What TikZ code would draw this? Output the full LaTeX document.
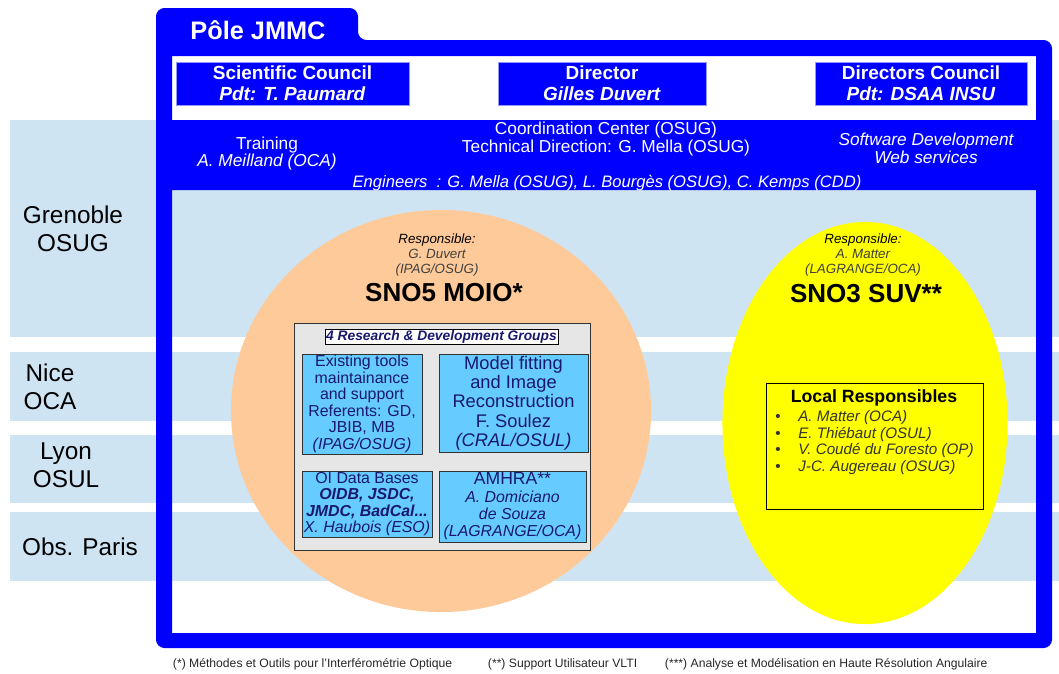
\documentclass[tikz,border=0pt]{standalone}
\usepackage{fontspec}
\setmainfont{Liberation Sans}
\usetikzlibrary{shapes.geometric}

\definecolor{jmmcblue}{RGB}{0,0,255}
\definecolor{boxrim}{RGB}{150,150,255}
\definecolor{bandblue}{RGB}{207,228,243}
\definecolor{peach}{RGB}{255,202,153}
\definecolor{suvyellow}{RGB}{255,255,0}
\definecolor{groupblue}{RGB}{102,204,255}
\definecolor{panelgray}{RGB}{230,230,230}
\definecolor{navy}{RGB}{24,24,110}

\newcommand{\fs}[2]{\fontsize{#1}{#2}\selectfont}

\tikzset{
  site/.style={align=center, font=\fs{17.3}{20}},
  topbox/.style={draw=boxrim, fill=jmmcblue, text=white, align=center,
    inner sep=0pt, font=\bfseries\fs{13.5}{15}},
  hdr/.style={text=white, align=center, font=\fs{12.3}{12.8}},
  resp/.style={align=center, text=black!75, font=\itshape\fs{9.5}{10.7}},
  sno/.style={font=\bfseries\fs{18.5}{20}},
  groupbox/.style={draw=black!80, fill=groupblue, text=navy, align=center,
    inner sep=0pt, font=\fs{11.3}{11.7}},
  note/.style={anchor=west, text=black!85, font=\fs{8.65}{9}},
}

\begin{document}
\begin{tikzpicture}[x=0.025cm, y=-0.025cm]
  \useasboundingbox (0,0) rectangle (1059,673);

  % site bands
  \foreach \ya/\yb in {120/337, 352/421, 435/503, 512/581}
    \fill[bandblue] (10,\ya) rectangle (1059,\yb);

  \node[site] (gre) at (73,229) {Grenoble\\OSUG};
  \node[site] (nic) at (50,387) {Nice\\OCA};
  \node[site] (lyo) at (66,465) {Lyon\\OSUL};
  \node[site] (par) at (80,547) {Obs. Paris};

  % pole frame with tab and header band
  \fill[jmmcblue, even odd rule]
    [rounded corners=6] (156,648) -- (156,8) -- (358,8) -- (358,40)
      -- (1052,40) -- (1052,648) -- cycle
    [sharp corners] (172,56) rectangle (1036,120)
    (172,190) rectangle (1036,633);

  \node[text=white, font=\bfseries\fs{18}{20}] (pole) at (258,30) {Pôle JMMC};

  \node[topbox, minimum width=5.825cm, minimum height=1.075cm] (sci) at (292.5,83.5)
    {Scientific Council\\\textit{Pdt: T. Paumard}};
  \node[topbox, minimum width=5.2cm, minimum height=1.075cm] (dir) at (602,83.5)
    {Director\\\textit{Gilles Duvert}};
  \node[topbox, minimum width=5.3cm, minimum height=1.075cm] (dirc) at (921,83.5)
    {Directors Council\\\textit{Pdt: DSAA INSU}};

  \node[hdr, font=\fs{12.3}{12.1}] (train) at (267,153.5) {Training\\\textit{A. Meilland (OCA)}};
  \node[hdr] (coord) at (606,139) {Coordination Center (OSUG)\\Technical Direction: G. Mella (OSUG)};
  \node[hdr, font=\itshape\fs{12.3}{12.8}] (soft) at (926,148) {Software Development\\Web services};
  \node[hdr, font=\itshape\fs{11.8}{13}] (eng) at (607,183)
    {Engineers~~: G. Mella (OSUG), L. Bourgès (OSUG), C. Kemps (CDD)};

  % SNO5
  \node[ellipse, fill=peach, inner sep=0pt, minimum width=10.5cm, minimum height=10.05cm] (moio) at (441,411) {};
  \node[resp] (moiorsp) at (437,255) {\textcolor{black}{Responsible:}\\G. Duvert\\(IPAG/OSUG)};
  \node[sno] (moiot) at (444,293) {SNO5 MOIO*};

  \node[draw=black!80, fill=panelgray, minimum width=7.4cm, minimum height=5.675cm] (panel) at (442,436.5) {};
  \node[draw=black, fill=white, text=navy, inner sep=0pt, minimum width=5.825cm, minimum height=0.375cm,
    font=\bfseries\itshape\fs{9.8}{10}] (rdg) at (441.5,336.5) {4 Research \& Development Groups};

  \node[groupbox, minimum width=3cm, minimum height=2.5cm] (tools) at (362,404)
    {Existing tools\\maintainance\\and support\\Referents: GD,\\JBIB, MB\\\textit{(IPAG/OSUG)}};
  \node[groupbox, minimum width=3.725cm, minimum height=2.45cm, font=\fs{13}{13.7}] (fit) at (513.5,403)
    {Model fitting\\and Image\\Reconstruction\\F. Soulez\\\textit{(CRAL/OSUL)}};
  \node[groupbox, minimum width=3.25cm, minimum height=1.65cm] (oidb) at (367,504)
    {OI Data Bases\\\textbf{\textit{OIDB, JSDC,}}\\\textbf{\textit{JMDC, BadCal...}}\\\textit{X. Haubois (ESO)}};
  \node[groupbox, minimum width=3.675cm, minimum height=1.775cm, font=\fs{11.3}{12.3}] (amhra) at (512.5,506.5)
    {{\fs{12.5}{12.3}AMHRA**}\\\textit{A. Domiciano}\\\textit{de Souza}\\\textit{(LAGRANGE/OCA)}};

  % SNO3
  \node[ellipse, fill=suvyellow, inner sep=0pt, minimum width=7.125cm, minimum height=10.05cm] (suv) at (865,423) {};
  \node[resp] (suvrsp) at (863,255) {\textcolor{black}{Responsible:}\\A. Matter\\(LAGRANGE/OCA)};
  \node[sno] (suvt) at (866,294) {SNO3 SUV**};

  \node[draw=black, fill=suvyellow, minimum width=5.425cm, minimum height=3.15cm] (loc) at (874.5,446) {};
  \node[font=\bfseries\fs{12.6}{13}] (loct) at (874,398) {Local Responsibles};
  \node[anchor=north west, align=left, inner sep=0pt, text=black!80, font=\fs{10.8}{11.9}] (locl) at (775,410)
    {\makebox[16.4pt][l]{\textbullet}\textit{A. Matter (OCA)}\\
     \makebox[16.4pt][l]{\textbullet}\textit{E. Thiébaut (OSUL)}\\
     \makebox[16.4pt][l]{\textbullet}\textit{V. Coudé du Foresto (OP)}\\
     \makebox[16.4pt][l]{\textbullet}\textit{J-C. Augereau (OSUG)}};

  % footnotes
  \node[note] (n1) at (168,664) {(*) Méthodes et Outils pour l'Interférométrie Optique};
  \node[note] (n2) at (483,664) {(**) Support Utilisateur VLTI};
  \node[note] (n3) at (660,664) {(***) Analyse et Modélisation en Haute Résolution Angulaire};
\end{tikzpicture}
\end{document}
